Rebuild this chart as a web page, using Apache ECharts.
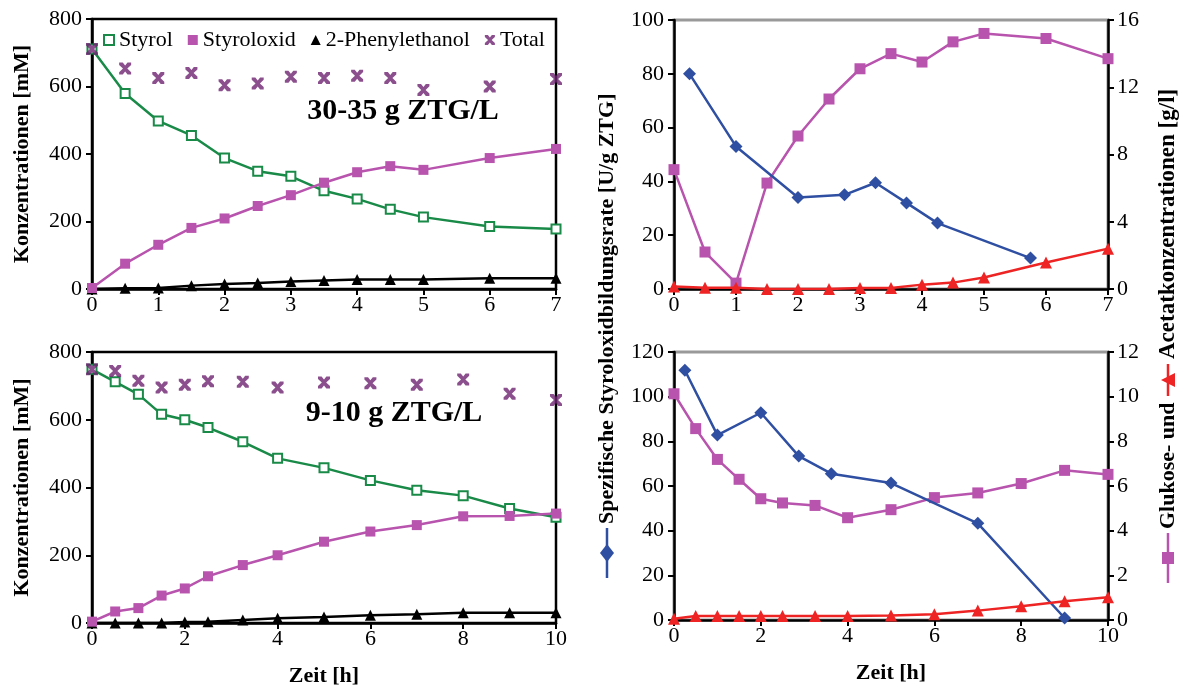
<!DOCTYPE html>
<html><head><meta charset="utf-8">
<script src="https://cdn.jsdelivr.net/npm/echarts@6/dist/echarts.min.js"></script>
<style>html,body{margin:0;padding:0;background:#fff}#c{width:1184px;height:688px}</style>
</head><body><div id="c"></div>
<script>
// ---- Data ----
const xTop = [0,0.5,1,1.5,2,2.5,3,3.5,4,4.5,5,6,7];
const styrolTop = [711,579,498,455,388,349,334,291,267,236,213,185,178];
const oxidTop = [3,75,131,181,209,246,278,315,346,364,353,388,415];
const pheTop = [0,2,3,10,15,18,22,25,28,28,28,32,32];
const totalTop = [711,653,625,640,604,609,629,625,632,625,590,600,622];

const xBot = [0,0.5,1,1.5,2,2.5,3.25,4,5,6,7,8,9,10];
const styrolBot = [749,712,675,616,600,577,535,486,458,421,392,376,338,312];
const oxidBot = [4,34,44,81,102,138,171,200,240,270,289,315,316,323];
const pheBot = [0,0,0,0,3,4,9,14,18,23,26,30,30,30];
const totalBot = [749,744,715,695,703,714,712,695,710,708,703,719,677,658];

const rateTopX = [0.25,1,2,2.75,3.25,3.75,4.25,5.75];
const rateTop = [80,53,34,35,39.5,32,24.5,11.5];
const glucTopX = [0,0.5,1,1.5,2,2.5,3,3.5,4,4.5,5,6,7];
const glucTop = [7.1,2.2,0.35,6.3,9.1,11.3,13.1,14,13.5,14.7,15.2,14.9,13.7];
const acetTop = [0.15,0.08,0.08,0,0,0,0.06,0.06,0.26,0.38,0.68,1.58,2.4];

const rateBotX = [0.25,1,2,2.875,3.625,5,7,9];
const rateBot = [111.8,82.8,92.8,73.4,65.5,61.3,43.3,0.9];
const glucBotX = [0,0.5,1,1.5,2,2.5,3.25,4,5,6,7,8,9,10];
const glucBot = [10.13,8.57,7.19,6.3,5.43,5.24,5.13,4.58,4.94,5.48,5.69,6.11,6.7,6.52];
const acetBot = [0.06,0.18,0.18,0.18,0.18,0.18,0.18,0.18,0.2,0.26,0.42,0.62,0.84,1.02];

const legendNames = ['Styrol','Styroloxid','2-Phenylethanol','Total'];
const leftYName = 'Konzentrationen [mM]';
const xName = 'Zeit [h]';
const rateName = 'Spezifische Styroloxidbildungsrate [U/g ZTG]';
const glucName = 'Glukose- und';
const acetName = 'Acetatkonzentrationen [g/l]';

// ---- Styles ----
const F = "'Liberation Serif','DejaVu Serif',serif";
const GREEN = '#1a8a48', PINK = '#b854ad', BLACK = '#000', PURPLE = '#6e2372', BLUE = '#2f4fa2', RED = '#ee2424';
const XPATH = 'path://M0,0 L3,0 L5,2.5 L7,0 L10,0 L10,2 L6.8,5 L10,8 L10,10 L7,10 L5,7.5 L3,10 L0,10 L0,8 L3.2,5 L0,2 Z';
const zip = (xs, ys) => xs.map((x, i) => [x, ys[i]]);

function xAxis(grid, max, interval, named) {
  return {
    type: 'value', gridIndex: grid, min: 0, max: max, interval: interval,
    axisLine: {show: true, onZero: false, lineStyle: {color: BLACK, width: 2.5}},
    axisTick: {show: true, length: 6, lineStyle: {color: BLACK, width: 2}},
    axisLabel: {color: BLACK, fontFamily: F, fontSize: 22, margin: 5},
    splitLine: {show: false},
    name: named ? xName : '', nameLocation: 'middle', nameGap: 42,
    nameTextStyle: {color: BLACK, fontFamily: F, fontSize: 22, fontWeight: 'bold'}
  };
}
function yAxis(grid, max, interval, pos, name) {
  return {
    type: 'value', gridIndex: grid, min: 0, max: max, interval: interval, position: pos,
    axisLine: {show: true, onZero: false, lineStyle: {color: BLACK, width: 2.5}},
    axisTick: {show: true, length: 6, lineStyle: {color: BLACK, width: 2}},
    axisLabel: {color: BLACK, fontFamily: F, fontSize: 22, margin: pos === 'right' ? 9 : 10},
    splitLine: {show: false},
    name: name || '', nameLocation: 'middle', nameGap: 59, nameRotate: 90,
    nameTextStyle: {color: BLACK, fontFamily: F, fontSize: 22, fontWeight: 'bold'}
  };
}

function leftSeries(xi, yi, xs, sty, oxi, phe, tot) {
  return [
    {name: 'Styrol', type: 'line', xAxisIndex: xi, yAxisIndex: yi, data: zip(xs, sty),
      symbol: 'rect', symbolSize: 9, lineStyle: {color: GREEN, width: 2.5},
      itemStyle: {color: '#fff', borderColor: GREEN, borderWidth: 2}, z: 3},
    {name: 'Styroloxid', type: 'line', xAxisIndex: xi, yAxisIndex: yi, data: zip(xs, oxi),
      symbol: 'rect', symbolSize: 10, lineStyle: {color: PINK, width: 2.5},
      itemStyle: {color: PINK}, z: 4},
    {name: '2-Phenylethanol', type: 'line', xAxisIndex: xi, yAxisIndex: yi, data: zip(xs, phe),
      symbol: 'triangle', symbolSize: 11, lineStyle: {color: BLACK, width: 2.5},
      itemStyle: {color: BLACK}, z: 3},
    {name: 'Total', type: 'scatter', xAxisIndex: xi, yAxisIndex: yi, data: zip(xs, tot),
      symbol: XPATH, symbolSize: 12, itemStyle: {color: PURPLE}, z: 5}
  ];
}

function rightSeries(xi, yl, yr, rx, r, gx, g, a) {
  return [
    {type: 'line', xAxisIndex: xi, yAxisIndex: yl, data: zip(rx, r), symbol: 'diamond', symbolSize: 13,
      lineStyle: {color: BLUE, width: 2.5}, itemStyle: {color: BLUE}, z: 4},
    {type: 'line', xAxisIndex: xi, yAxisIndex: yr, data: zip(gx, g), symbol: 'rect', symbolSize: 11,
      lineStyle: {color: PINK, width: 2.5}, itemStyle: {color: PINK}, z: 3},
    {type: 'line', xAxisIndex: xi, yAxisIndex: yr, data: zip(gx, a), symbol: 'triangle', symbolSize: 12,
      lineStyle: {color: RED, width: 2.5}, itemStyle: {color: RED}, z: 5}
  ];
}

function vText(x, y, text, size) {
  return {type: 'text', x: x, y: y, rotation: Math.PI / 2,
    style: {text: text, fill: BLACK, font: "bold " + size + "px 'Liberation Serif','DejaVu Serif',serif",
      textAlign: 'left', textVerticalAlign: 'middle'}};
}
function vSymbolLine(x, y1, y2, color) {
  return {type: 'line', shape: {x1: x, y1: y1, x2: x, y2: y2}, style: {stroke: color, lineWidth: 2.5}};
}

const chart = echarts.init(document.getElementById('c'), null, {renderer: 'canvas'});
chart.setOption({
  animation: false,
  backgroundColor: '#fff',
  grid: [
    {left: 92, top: 19, width: 464, height: 270, show: true, borderColor: BLACK, borderWidth: 2.5},
    {left: 92, top: 352, width: 464, height: 271, show: true, borderColor: BLACK, borderWidth: 2.5},
    {left: 674, top: 20, width: 434, height: 269, show: true, borderColor: '#999', borderWidth: 3},
    {left: 674, top: 352, width: 434, height: 268, show: true, borderColor: '#999', borderWidth: 3}
  ],
  legend: {
    left: 98, top: 24, itemWidth: 10, itemHeight: 10, itemGap: 15,
    textStyle: {color: BLACK, fontFamily: F, fontSize: 22},
    data: [
      {name: legendNames[0], icon: 'rect'},
      {name: legendNames[1], icon: 'rect'},
      {name: legendNames[2], icon: 'triangle'},
      {name: legendNames[3], icon: XPATH}
    ]
  },
  xAxis: [xAxis(0, 7, 1, false), xAxis(1, 10, 2, true), xAxis(2, 7, 1, false), xAxis(3, 10, 2, true)],
  yAxis: [
    yAxis(0, 800, 200, 'left', leftYName),
    yAxis(1, 800, 200, 'left', leftYName),
    yAxis(2, 100, 20, 'left'),
    yAxis(2, 16, 4, 'right'),
    yAxis(3, 120, 20, 'left'),
    yAxis(3, 12, 2, 'right')
  ],
  series: [].concat(
    leftSeries(0, 0, xTop, styrolTop, oxidTop, pheTop, totalTop),
    leftSeries(1, 1, xBot, styrolBot, oxidBot, pheBot, totalBot),
    rightSeries(2, 2, 3, rateTopX, rateTop, glucTopX, glucTop, acetTop),
    rightSeries(3, 4, 5, rateBotX, rateBot, glucBotX, glucBot, acetBot)
  ),
  graphic: [
    {type: 'text', x: 403, y: 111, style: {text: '30-35 g ZTG/L', fill: BLACK,
      font: "bold 30px 'Liberation Serif','DejaVu Serif',serif", textAlign: 'center', textVerticalAlign: 'middle'}},
    {type: 'text', x: 394, y: 413, style: {text: '9-10 g ZTG/L', fill: BLACK,
      font: "bold 30px 'Liberation Serif','DejaVu Serif',serif", textAlign: 'center', textVerticalAlign: 'middle'}},
    vText(607, 524, rateName, 22),
    vSymbolLine(607, 528, 578, BLUE),
    {type: 'polygon', shape: {points: [[607, 544], [614, 553], [607, 562], [600, 553]]}, style: {fill: BLUE}},
    vText(1168, 529, glucName, 22),
    vText(1168, 359, acetName, 23),
    vSymbolLine(1168, 533, 583, PINK),
    {type: 'rect', shape: {x: 1162, y: 552, width: 12, height: 12}, style: {fill: PINK}},
    vSymbolLine(1168, 364, 396, RED),
    {type: 'polygon', shape: {points: [[1161, 380], [1175, 373], [1175, 387]]}, style: {fill: RED}}
  ]
});
</script></body></html>
